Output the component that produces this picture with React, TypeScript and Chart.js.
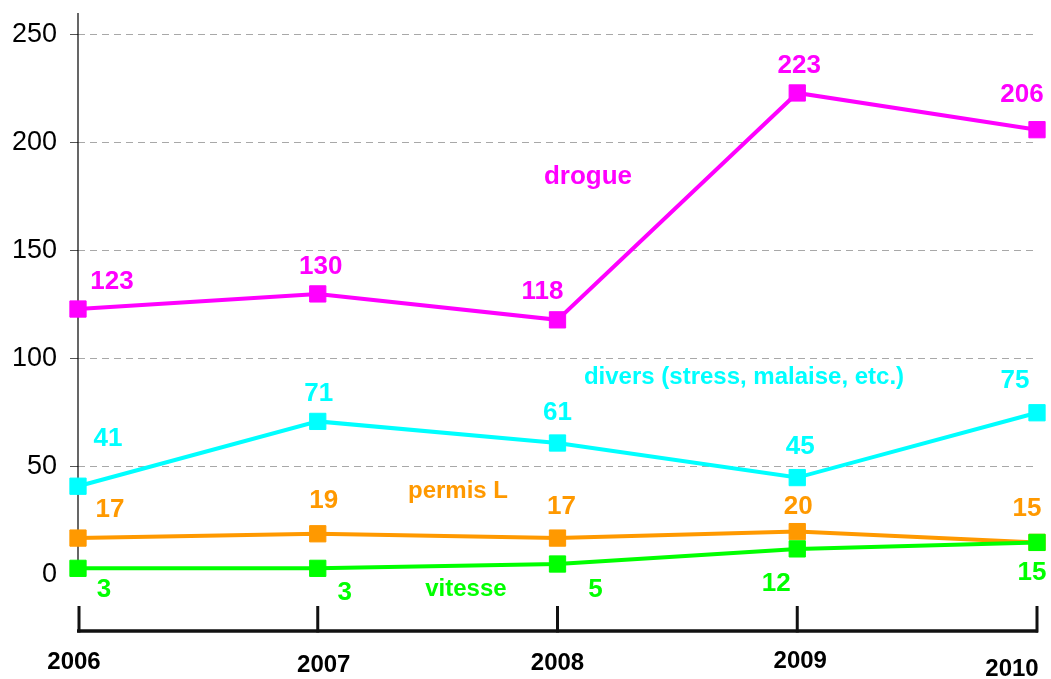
import React, { useEffect, useRef } from "react";
import { Chart, registerables } from "chart.js";

Chart.register(...registerables);

// ---- data ----
const years = ["2006", "2007", "2008", "2009", "2010"];
const drogue = [123, 130, 118, 223, 206];
const divers = [41, 71, 61, 45, 75];
const permisL = [17, 19, 17, 20, 15];
const vitesse = [3, 3, 5, 12, 15];
const yTickValues = [0, 50, 100, 150, 200, 250];
const seriesNames = ["drogue", "divers (stress, malaise, etc.)", "permis L", "vitesse"];

// ---- styling ----
const FONT = "'Liberation Sans', Arial, Helvetica, sans-serif";
const MAGENTA = "#FF00FF";
const CYAN = "#00FFFF";
const ORANGE = "#FF9900";
const GREEN = "#00FF00";

// value-label offsets (px) from each point, per series
const labelOffsets: number[][][] = [
  [[34, -27], [3, -27], [-15, -28], [2, -27], [-15, -35]],
  [[30, -47], [1, -28], [0, -30], [3, -31], [-22, -32]],
  [[32, -28], [6, -33], [4, -31], [1, -25], [-10, -34]],
  [[26, 21], [27, 24], [38, 26], [-21, 35], [-5, 30]],
];

// series-name anchors in (category index, value) space and font sizes
const nameAnchors: number[][] = [
  [2.127, 184.3],
  [2.778, 91.2],
  [1.585, 38.4],
  [1.618, -6.9],
];
const nameSizes = [26, 24, 24, 24];

// year labels below the bottom axis: horizontal / vertical shift
const yearShift: number[][] = [
  [-4, 31],
  [6, 34],
  [0, 32],
  [3, 30],
  [-25, 38],
];

const annotatePlugin = {
  id: "annotate",
  beforeDatasetsDraw(chart: any) {
    const { ctx, scales } = chart;
    const y = scales.y;
    const area = chart.chartArea;
    // vertical value axis, running from zero up to the top of the plot
    ctx.save();
    ctx.strokeStyle = "#000";
    ctx.lineWidth = 1.2;
    ctx.beginPath();
    ctx.moveTo(area.left, area.top);
    ctx.lineTo(area.left, y.getPixelForValue(0));
    ctx.stroke();
    ctx.restore();
  },
  afterDatasetsDraw(chart: any) {
    const { ctx, scales } = chart;
    const xs = scales.x;
    const ys = scales.y;
    ctx.save();
    chart.data.datasets.forEach((ds: any, di: number) => {
      const meta = chart.getDatasetMeta(di);
      ctx.fillStyle = ds.borderColor;
      ctx.textAlign = "center";
      ctx.textBaseline = "middle";
      // values next to each marker
      ctx.font = `bold 26px ${FONT}`;
      meta.data.forEach((pt: any, i: number) => {
        const [dx, dy] = labelOffsets[di][i];
        ctx.fillText(String(ds.data[i]), pt.x + dx, pt.y + dy);
      });
      // series name inside the plot
      const [ax, ay] = nameAnchors[di];
      ctx.font = `bold ${nameSizes[di]}px ${FONT}`;
      ctx.fillText(ds.label, xs.getPixelForValue(ax), ys.getPixelForValue(ay));
    });
    ctx.restore();
  },
  afterDraw(chart: any) {
    const { ctx, scales } = chart;
    const xs = scales.x;
    const area = chart.chartArea;
    const axisY = area.bottom;
    const first = xs.getPixelForValue(0);
    const last = xs.getPixelForValue(years.length - 1);
    ctx.save();
    ctx.strokeStyle = "#111";
    ctx.lineCap = "butt";
    // category axis line
    ctx.lineWidth = 3.5;
    ctx.beginPath();
    ctx.moveTo(first - 1, axisY);
    ctx.lineTo(last + 1, axisY);
    ctx.stroke();
    // upward tick marks
    ctx.lineWidth = 3;
    years.forEach((_, i) => {
      const px = xs.getPixelForValue(i) + (i === 0 ? 1 : 0);
      ctx.beginPath();
      ctx.moveTo(px, axisY + 1.5);
      ctx.lineTo(px, axisY - 25);
      ctx.stroke();
    });
    // year labels
    ctx.fillStyle = "#000";
    ctx.font = `bold 24px ${FONT}`;
    ctx.textAlign = "center";
    ctx.textBaseline = "middle";
    years.forEach((label, i) => {
      const [dx, dy] = yearShift[i];
      ctx.fillText(label, xs.getPixelForValue(i) + dx, axisY + dy);
    });
    ctx.restore();
  },
};

function makeSeries(label: string, data: number[], color: string, order: number) {
  return {
    label,
    data,
    borderColor: color,
    backgroundColor: color,
    borderWidth: 4,
    pointStyle: "rect",
    pointRadius: 11.5,
    pointHoverRadius: 11.5,
    pointBorderWidth: 1,
    pointBackgroundColor: color,
    pointBorderColor: color,
    tension: 0,
    clip: false,
    order,
  };
}

export default function App() {
  const canvasRef = useRef<HTMLCanvasElement | null>(null);

  useEffect(() => {
    const canvas = canvasRef.current;
    if (!canvas) return;
    const chart = new Chart(canvas, {
      type: "line",
      data: {
        labels: years,
        datasets: [
          makeSeries(seriesNames[0], drogue, MAGENTA, 3),
          makeSeries(seriesNames[1], divers, CYAN, 2),
          makeSeries(seriesNames[2], permisL, ORANGE, 1),
          makeSeries(seriesNames[3], vitesse, GREEN, 0),
        ],
      },
      options: {
        responsive: false,
        animation: false,
        devicePixelRatio: 1,
        layout: { padding: { left: 0, right: 14, top: 13, bottom: 48 } },
        plugins: {
          legend: { display: false },
          tooltip: { enabled: false },
        },
        events: [],
        scales: {
          x: {
            type: "category",
            display: false,
            offset: false,
          },
          y: {
            min: -26,
            max: 260,
            afterFit(scale: any) {
              scale.width = 78;
              scale.paddingTop = 0;
              scale.paddingBottom = 0;
            },
            afterBuildTicks(scale: any) {
              scale.ticks = yTickValues.map((v) => ({ value: v }));
            },
            border: { display: false, dash: [7, 5] },
            grid: {
              color: (c: any) => (c.tick && c.tick.value === 0 ? "rgba(0,0,0,0)" : "#a8a8a8"),
              lineWidth: 1,
              drawTicks: true,
              tickLength: 8,
              tickColor: "#555",
              tickWidth: 1,
            },
            ticks: {
              color: "#000",
              padding: 13,
              font: { family: FONT, size: 27 },
            },
          },
        },
      },
      plugins: [annotatePlugin],
    } as any);
    return () => chart.destroy();
  }, []);

  return (
    <div style={{ position: "fixed", left: 0, top: 0, width: 1051, height: 679, background: "#fff" }}>
      <canvas ref={canvasRef} width={1051} height={679} style={{ display: "block" }} />
    </div>
  );
}
